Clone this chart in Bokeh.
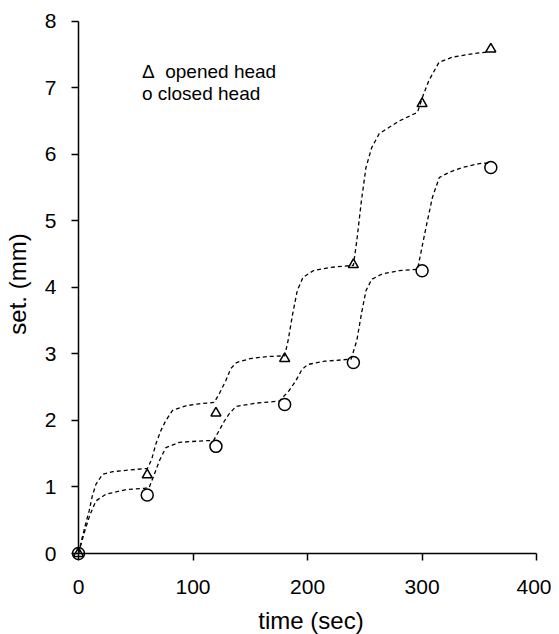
from bokeh.plotting import figure
from bokeh.models import Range1d, FixedTicker, Label
from bokeh.embed import file_html
from bokeh.resources import INLINE

# measured points
time_s = [0, 60, 120, 180, 240, 300, 360]
opened = [0, 1.18, 2.11, 2.93, 4.34, 6.76, 7.58]
closed = [0, 0.88, 1.61, 2.24, 2.87, 4.25, 5.80]

# dashed fitted curves
fit_open_t = [0, 3, 6, 9.3, 12, 15.2, 21, 30, 41.4, 60.3,
              64, 67.6, 72, 76.3, 82.1, 93.8, 105.4, 118.5,
              122.9, 128.7, 133, 138, 150, 165, 180,
              183, 187, 191, 196, 205, 220, 240,
              243, 247, 251, 256, 262.6, 280, 296, 300.4,
              306, 314.7, 326.6, 344, 358]
fit_open_y = [0, 0.22, 0.43, 0.64, 0.86, 1.04, 1.19, 1.23, 1.25, 1.28,
              1.42, 1.65, 1.85, 2.0, 2.15, 2.22, 2.25, 2.27,
              2.40, 2.60, 2.78, 2.87, 2.93, 2.96, 2.97,
              3.2, 3.6, 3.95, 4.15, 4.25, 4.30, 4.33,
              4.7, 5.3, 5.8, 6.1, 6.31, 6.5, 6.63, 6.86,
              7.11, 7.38, 7.46, 7.51, 7.54]
fit_closed_t = [0, 3, 6.4, 10, 15.2, 23.9, 41.4, 57.4,
                61.7, 66, 70.5, 76.3, 88, 105.4, 118,
                122.9, 127, 131.6, 137.5, 154.9, 175.3,
                184, 189.9, 195, 200, 215, 238,
                243, 247, 251, 256, 265, 280, 296,
                303.4, 309, 315, 323.8, 335, 350, 360]
fit_closed_y = [0, 0.19, 0.39, 0.58, 0.79, 0.89, 0.96, 0.98,
                0.99, 1.18, 1.39, 1.59, 1.67, 1.69, 1.70,
                1.85, 1.98, 2.10, 2.21, 2.26, 2.29,
                2.45, 2.60, 2.76, 2.84, 2.89, 2.92,
                3.2, 3.6, 3.95, 4.12, 4.2, 4.25, 4.27,
                4.90, 5.35, 5.65, 5.73, 5.80, 5.86, 5.87]

x_ticks = [0, 100, 200, 300, 400]
y_ticks = [0, 1, 2, 3, 4, 5, 6, 7, 8]
legend_lines = ["\u0394\u00a0\u00a0opened head", "o closed head"]

FONT = "Liberation Sans"

p = figure(width=549, height=634, output_backend="svg", toolbar_location=None,
           x_range=Range1d(0, 406), y_range=Range1d(0, 8.1),
           frame_width=465, frame_height=539,
           min_border_left=76, min_border_right=8, min_border_top=14, min_border_bottom=80)
p.xgrid.visible = False
p.ygrid.visible = False
p.outline_line_color = None
p.background_fill_color = "white"
p.border_fill_color = "white"

for ax in (p.xaxis[0], p.yaxis[0]):
    ax.axis_line_width = 1.5
    ax.axis_line_color = "black"
    ax.major_tick_line_color = "black"
    ax.major_tick_line_width = 1.5
    ax.major_tick_out = 7
    ax.major_tick_in = 0
    ax.minor_tick_line_color = None
    ax.major_label_text_font = FONT
    ax.major_label_text_font_size = "21px"
    ax.major_label_text_color = "black"
    ax.axis_label_text_font = FONT
    ax.axis_label_text_font_size = "24px"
    ax.axis_label_text_font_style = "normal"
    ax.axis_label_text_color = "black"

p.xaxis[0].ticker = FixedTicker(ticks=x_ticks)
p.yaxis[0].ticker = FixedTicker(ticks=y_ticks)
p.xaxis[0].bounds = (0, 400)
p.yaxis[0].bounds = (0, 8)
p.xaxis[0].axis_label = "time (sec)"
p.yaxis[0].axis_label = "set. (mm)"
p.xaxis[0].major_label_standoff = 19
p.yaxis[0].major_label_standoff = 15
p.xaxis[0].axis_label_standoff = 10
p.yaxis[0].axis_label_standoff = 11

p.line(fit_open_t, fit_open_y, line_color="black", line_width=1.3, line_dash="4 3")
p.line(fit_closed_t, fit_closed_y, line_color="black", line_width=1.3, line_dash="4 3")
r1 = p.scatter(time_s, opened, marker="triangle", size=10, line_color="black",
               line_width=1.5, fill_alpha=0)
r2 = p.scatter(time_s, closed, marker="circle", size=12, line_color="black",
               line_width=1.5, fill_alpha=0)
r1.level = "overlay"
r2.level = "overlay"

p.add_layout(Label(x=55.4, y=7.24, text=legend_lines[0], text_font=FONT,
                   text_font_size="19px", text_color="black", text_baseline="middle"))
p.add_layout(Label(x=55.4, y=6.91, text=legend_lines[1], text_font=FONT,
                   text_font_size="19px", text_color="black", text_baseline="middle"))

open("out.html", "w").write(file_html(p, INLINE))
